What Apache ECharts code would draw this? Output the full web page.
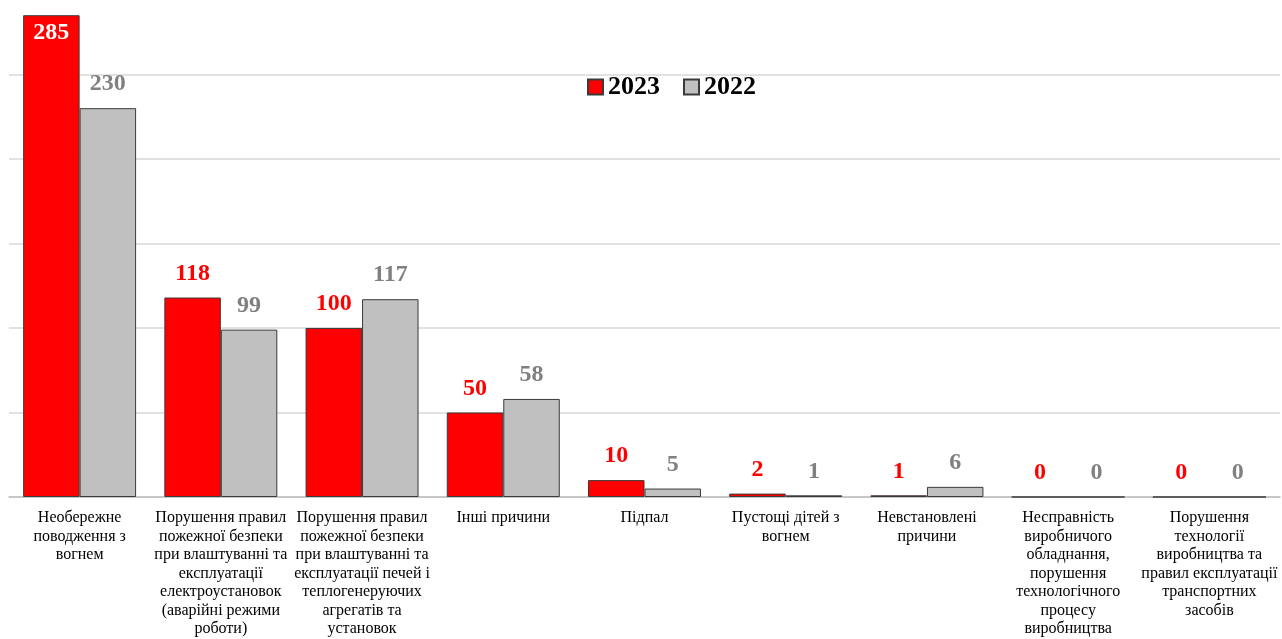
<!DOCTYPE html>
<html>
<head>
<meta charset="utf-8">
<script src="https://cdn.jsdelivr.net/npm/echarts@6/dist/echarts.min.js"></script>
<style>
html,body{margin:0;padding:0;background:#fff;}
#chart{width:1282px;height:639px;}
</style>
</head>
<body>
<div id="chart"></div>
<script>
const categories = [
  "Необережне\nповодження з\nвогнем",
  "Порушення правил\nпожежної безпеки\nпри влаштуванні та\nексплуатації\nелектроустановок\n(аварійні режими\nроботи)",
  "Порушення правил\nпожежної безпеки\nпри влаштуванні та\nексплуатації печей і\nтеплогенеруючих\nагрегатів та\nустановок",
  "Інші причини",
  "Підпал",
  "Пустощі дітей з\nвогнем",
  "Невстановлені\nпричини",
  "Несправність\nвиробничого\nобладнання,\nпорушення\nтехнологічного\nпроцесу\nвиробництва",
  "Порушення\nтехнології\nвиробництва та\nправил експлуатації\nтранспортних\nзасобів"
];
const values2023 = [285, 118, 100, 50, 10, 2, 1, 0, 0];
const values2022 = [230, 99, 117, 58, 5, 1, 6, 0, 0];

const chart = echarts.init(document.getElementById('chart'));
const labelFont = {fontFamily: 'Liberation Serif', fontWeight: 'bold', fontSize: 24};
chart.setOption({
  animation: false,
  legend: {
    data: ['2023', '2022'],
    left: 582,
    top: 69,
    itemWidth: 15,
    itemHeight: 15,
    itemGap: 23,
    icon: 'rect',
    textStyle: {fontFamily: 'Liberation Serif', fontWeight: 'bold', fontSize: 26, color: '#000', padding: [0,0,0,0]}
  },
  grid: {left: 9, right: 2, top: 0, bottom: 142, containLabel: false},
  xAxis: {
    type: 'category',
    data: categories,
    axisLine: {lineStyle: {color: '#bfbfbf', width: 1.5}},
    axisTick: {show: false},
    axisLabel: {
      interval: 0,
      margin: 12,
      fontFamily: 'Liberation Serif',
      fontSize: 16,
      lineHeight: 18.5,
      color: '#000',
      align: 'center'
    }
  },
  yAxis: {
    type: 'value',
    min: 0,
    max: 294,
    interval: 50,
    axisLabel: {show: false},
    axisLine: {show: false},
    axisTick: {show: false},
    splitLine: {showMaxLine: false, lineStyle: {color: '#d9d9d9', width: 1.5}}
  },
  series: [
    {
      name: '2023',
      type: 'bar',
      data: values2023.map((v, i) => i === 0 ? {value: v, label: {position: 'insideTop', color: '#fff', distance: 6}} : v),
      barGap: '0%',
      barCategoryGap: '20%',
      itemStyle: {color: '#ff0000', borderColor: '#3a3a3a', borderWidth: 1},
      label: Object.assign({show: true, position: 'top', distance: 12, color: '#ff0000'}, labelFont)
    },
    {
      name: '2022',
      type: 'bar',
      data: values2022,
      barGap: '0%',
      barCategoryGap: '20%',
      itemStyle: {color: '#c0c0c0', borderColor: '#3a3a3a', borderWidth: 1},
      label: Object.assign({show: true, position: 'top', distance: 12, color: '#808080'}, labelFont)
    }
  ]
});
</script>
</body>
</html>
